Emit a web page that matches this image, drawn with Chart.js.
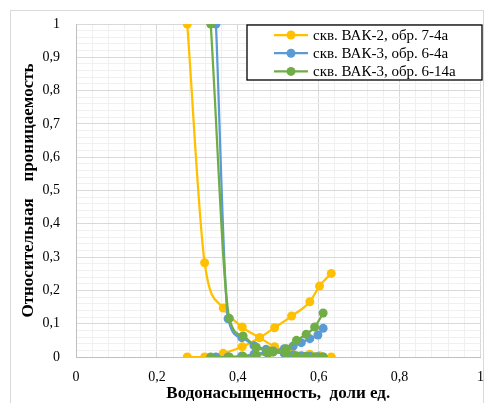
<!DOCTYPE html>
<html>
<head>
<meta charset="utf-8">
<script src="https://cdn.jsdelivr.net/npm/chart.js@4/dist/chart.umd.min.js"></script>
<style>
  html, body { margin: 0; padding: 0; background: #ffffff; }
  #wrap { position: relative; width: 485px; height: 403px; }
</style>
</head>
<body>
<div id="wrap"><canvas id="c" width="485" height="403"></canvas></div>
<script>
// ---- Data ----
const seriesLabels = ["скв. ВАК-2, обр. 7-4а", "скв. ВАК-3, обр. 6-4а", "скв. ВАК-3, обр. 6-14а"];
const seriesColors = ["#FFC000", "#5B9BD5", "#70AD47"];

// скв. ВАК-2, обр. 7-4а
const sw_7_4a  = [0.275, 0.318, 0.364, 0.411, 0.454, 0.491, 0.533, 0.578, 0.602, 0.631];
const kro_7_4a = [1.000, 0.283, 0.147, 0.090, 0.058, 0.031, 0.013, 0.008, 0.004, 0.000];
const krw_7_4a = [0.000, 0.000, 0.011, 0.031, 0.058, 0.088, 0.123, 0.166, 0.213, 0.251];

// скв. ВАК-3, обр. 6-4а
const sw_6_4a  = [0.346, 0.376, 0.410, 0.440, 0.470, 0.487, 0.515, 0.537, 0.557, 0.578, 0.598, 0.611];
const kro_6_4a = [1.000, 0.115, 0.058, 0.034, 0.023, 0.016, 0.010, 0.006, 0.004, 0.002, 0.001, 0.000];
const krw_6_4a = [0.000, 0.000, 0.003, 0.008, 0.014, 0.018, 0.025, 0.033, 0.043, 0.055, 0.066, 0.086];

// скв. ВАК-3, обр. 6-14а
const sw_6_14a  = [0.333, 0.379, 0.413, 0.446, 0.475, 0.487, 0.520, 0.545, 0.569, 0.590, 0.611];
const kro_6_14a = [1.000, 0.116, 0.063, 0.029, 0.018, 0.016, 0.010, 0.004, 0.002, 0.001, 0.000];
const krw_6_14a = [0.000, 0.000, 0.002, 0.006, 0.011, 0.015, 0.025, 0.050, 0.068, 0.090, 0.132];

const xTickValues = [0, 0.2, 0.4, 0.6, 0.8, 1];
const yTickValues = [0, 0.1, 0.2, 0.3, 0.4, 0.5, 0.6, 0.7, 0.8, 0.9, 1];

const xTitle = "Водонасыщенность,  доли ед.";
const yTitle = "Относительная    проницаемость";

// ---- Build datasets ----
function pts(xs, ys) { return xs.map((x, i) => ({ x: x, y: ys[i] })); }
function ds(idx, xs, ys, order, inLegend) {
  const c = seriesColors[idx];
  return {
    label: seriesLabels[idx],
    data: pts(xs, ys),
    showLine: true,
    borderColor: c,
    backgroundColor: c,
    pointBackgroundColor: c,
    pointBorderColor: c,
    pointRadius: 4.5,
    pointBorderWidth: 0,
    borderWidth: 2.25,
    cubicInterpolationMode: 'monotone',
    order: order,
    legendIdx: inLegend ? idx : -1
  };
}
const datasets = [
  ds(0, sw_7_4a, kro_7_4a, 6, true),
  ds(0, sw_7_4a, krw_7_4a, 5, false),
  ds(1, sw_6_4a, kro_6_4a, 4, true),
  ds(1, sw_6_4a, krw_6_4a, 3, false),
  ds(2, sw_6_14a, kro_6_14a, 2, true),
  ds(2, sw_6_14a, krw_6_14a, 1, false)
];

function near(v, list) { return list.find(t => Math.abs(t - v) < 1e-6); }
function fmt(v) { return String(Math.round(v * 10) / 10).replace('.', ','); }

const bgPlugin = {
  id: 'bg',
  beforeDraw(chart) {
    const ctx = chart.ctx;
    ctx.save();
    ctx.fillStyle = '#ffffff';
    ctx.fillRect(0, 0, chart.width, chart.height);
    ctx.strokeStyle = '#d9d9d9';
    ctx.lineWidth = 1;
    ctx.strokeRect(10.5, 10.5, 473, 400);
    ctx.restore();
  }
};

const legendPlugin = {
  id: 'boxLegend',
  afterDraw(chart) {
    const ctx = chart.ctx;
    const items = chart.data.datasets.filter(d => d.legendIdx >= 0);
    const bx = 247, by = 25, bw = 235, bh = 55;
    ctx.save();
    ctx.fillStyle = '#ffffff';
    ctx.fillRect(bx, by, bw, bh);
    ctx.strokeStyle = '#000000';
    ctx.lineWidth = 1.3;
    ctx.strokeRect(bx, by, bw, bh);
    ctx.font = '15px "Liberation Serif", "Times New Roman", serif';
    ctx.textBaseline = 'middle';
    ctx.textAlign = 'left';
    items.forEach((d, i) => {
      const cy = 35 + i * 18.2;
      ctx.strokeStyle = d.borderColor;
      ctx.lineWidth = 2.25;
      ctx.beginPath();
      ctx.moveTo(274, cy);
      ctx.lineTo(308, cy);
      ctx.stroke();
      ctx.fillStyle = d.borderColor;
      ctx.beginPath();
      ctx.arc(291, cy, 4.5, 0, Math.PI * 2);
      ctx.fill();
      ctx.fillStyle = '#000000';
      ctx.fillText(d.label, 313, cy + 1);
    });
    ctx.restore();
  }
};

const tickFont = { family: '"Liberation Serif", "Times New Roman", serif', size: 14 };
const titleFont = { family: '"Liberation Serif", "Times New Roman", serif', size: 17, weight: 'bold' };

new Chart(document.getElementById('c'), {
  type: 'scatter',
  data: { datasets: datasets },
  plugins: [bgPlugin, legendPlugin],
  options: {
    responsive: false,
    animation: false,
    layout: { padding: { left: 0, right: 4, top: 24, bottom: 0 } },
    plugins: { legend: { display: false }, tooltip: { enabled: false } },
    scales: {
      x: {
        type: 'linear', min: 0, max: 1,
        afterFit(s) { s.height = 46; s.paddingLeft = 0; s.paddingRight = 0; },
        ticks: {
          stepSize: 0.04, autoSkip: false, maxRotation: 0, padding: 12,
          color: '#000000', font: tickFont,
          callback: (v) => { const t = near(v, xTickValues); return t === undefined ? '' : fmt(t); }
        },
        grid: {
          drawTicks: false,
          color: (c) => near(c.tick.value, xTickValues) !== undefined ? '#d9d9d9' : '#f0f0f0',
          lineWidth: 1
        },
        border: { display: true, color: '#bfbfbf', width: 1 },
        title: { display: true, text: xTitle, color: '#000000', font: titleFont, padding: { top: 0, bottom: -1 } }
      },
      y: {
        type: 'linear', min: 0, max: 1,
        afterFit(s) { s.width = 76; s.paddingTop = 0; s.paddingBottom = 0; },
        ticks: {
          stepSize: 0.02, autoSkip: false, padding: 16,
          color: '#000000', font: tickFont,
          callback: (v) => { const t = near(v, yTickValues); return t === undefined ? '' : fmt(t); }
        },
        grid: {
          drawTicks: false,
          color: (c) => near(c.tick.value, yTickValues) !== undefined ? '#d9d9d9' : '#f0f0f0',
          lineWidth: 1
        },
        border: { display: true, color: '#bfbfbf', width: 1 },
        title: { display: true, text: yTitle, color: '#000000', font: titleFont, padding: { top: 18, bottom: 0 } }
      }
    }
  }
});
</script>
</body>
</html>
